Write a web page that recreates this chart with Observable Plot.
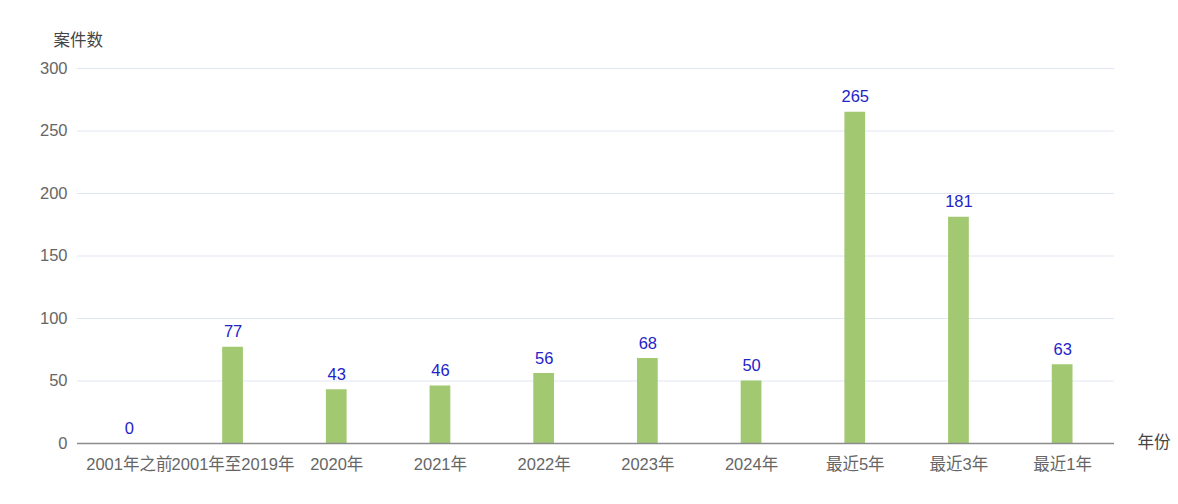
<!DOCTYPE html>
<html>
<head>
<meta charset="utf-8">
<script src="https://cdn.jsdelivr.net/npm/d3@7"></script>
<script src="https://cdn.jsdelivr.net/npm/@observablehq/plot@0.6"></script>
<style>
  html, body { margin: 0; padding: 0; background: #fff; }
  svg { display: block; }
</style>
</head>
<body>
<div id="chart"></div>
<script>
const categories = ["2001年之前", "2001年至2019年", "2020年", "2021年", "2022年", "2023年", "2024年", "最近5年", "最近3年", "最近1年"];
const values = [0, 77, 43, 46, 56, 68, 50, 265, 181, 63];
const yTicks = [0, 50, 100, 150, 200, 250, 300];
const yLabel = "案件数";
const xLabel = "年份";

const data = categories.map((c, i) => ({cat: c, value: values[i]}));
const font = "'Liberation Sans', 'Noto Sans CJK SC', sans-serif";

const chart = Plot.plot({
  width: 1178,
  height: 504,
  marginLeft: 77,
  marginRight: 64,
  marginTop: 68,
  marginBottom: 61,
  style: {fontFamily: font, fontSize: "16px", color: "#666", background: "#fff"},
  x: {domain: categories, paddingInner: 0.8, paddingOuter: 0.4, round: false, label: null},
  y: {domain: [0, 300], label: null},
  marks: [
    Plot.gridY(yTicks, {stroke: "#e0e6f1", strokeOpacity: 1}),
    Plot.axisY({ticks: yTicks, tickSize: 0, tickPadding: 10, label: null, fill: "#666", fontSize: 16.5}),
    Plot.axisX({tickSize: 0, tickPadding: 15, label: null, fill: "#666", fontSize: 16.5}),
    Plot.barY(data, {x: "cat", y: "value", fill: "#a2c971"}),
    Plot.ruleY([0], {stroke: "#8c8c8c", strokeWidth: 1.5}),
    Plot.text(data, {x: "cat", y: "value", text: d => String(d.value), lineAnchor: "bottom", dy: -10, fill: "#2323c8", fontSize: 16.5}),
    Plot.text([yLabel], {frameAnchor: "top-left", textAnchor: "start", lineAnchor: "middle", dx: -24, dy: -28, fill: "#444", fontSize: 16.5}),
    Plot.text([xLabel], {frameAnchor: "bottom-right", textAnchor: "start", lineAnchor: "middle", dx: 23, dy: -1, fill: "#444", fontSize: 16.5})
  ]
});
document.getElementById("chart").appendChild(chart);
</script>
</body>
</html>
